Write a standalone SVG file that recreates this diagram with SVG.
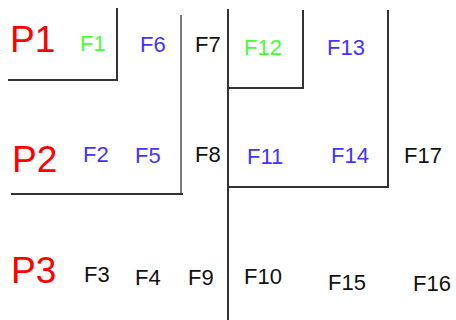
<svg xmlns="http://www.w3.org/2000/svg" width="456" height="320" viewBox="0 0 456 320">
<style>
text{font-family:"Liberation Sans",Arial,sans-serif;}
.p{fill:#ff0000;font-size:37px;}
.f{font-size:22px;}
.g{fill:#44ff33;}
.b{fill:#4433ff;}
.k{fill:#111111;}
.ln{stroke:#333333;stroke-width:2;fill:none;}
.lg{stroke:#7a7a7a;stroke-width:2;fill:none;}
</style>
<rect width="456" height="320" fill="#ffffff"/>
<g id="connectors">
<path class="ln" d="M8,80 H117 V8"/>
<path class="lg" d="M181,15 V194"/>
<path class="ln" d="M11,194 H183"/>
<path class="ln" d="M228,9 V320"/>
<path class="ln" d="M228,88 H303 V10"/>
<path class="ln" d="M228,187 H388 V10"/>
</g>
<g id="P1"><text class="p" x="10" y="52">P1</text></g>
<g id="F1"><text class="f g" x="80" y="51">F1</text></g>
<g id="F6"><text class="f b" x="140" y="52">F6</text></g>
<g id="F7"><text class="f k" x="195" y="52">F7</text></g>
<g id="F12"><text class="f g" x="244" y="55">F12</text></g>
<g id="F13"><text class="f b" x="327" y="55">F13</text></g>
<g id="P2"><text class="p" x="12" y="172">P2</text></g>
<g id="F2"><text class="f b" x="83" y="162">F2</text></g>
<g id="F5"><text class="f b" x="135" y="163">F5</text></g>
<g id="F8"><text class="f k" x="195" y="162">F8</text></g>
<g id="F11"><text class="f b" x="247" y="164">F11</text></g>
<g id="F14"><text class="f b" x="331" y="163">F14</text></g>
<g id="F17"><text class="f k" x="404" y="163">F17</text></g>
<g id="P3"><text class="p" x="11" y="283">P3</text></g>
<g id="F3"><text class="f k" x="84" y="282">F3</text></g>
<g id="F4"><text class="f k" x="135" y="285">F4</text></g>
<g id="F9"><text class="f k" x="188" y="285">F9</text></g>
<g id="F10"><text class="f k" x="244" y="284">F10</text></g>
<g id="F15"><text class="f k" x="328" y="290">F15</text></g>
<g id="F16"><text class="f k" x="413" y="291">F16</text></g>
</svg>
